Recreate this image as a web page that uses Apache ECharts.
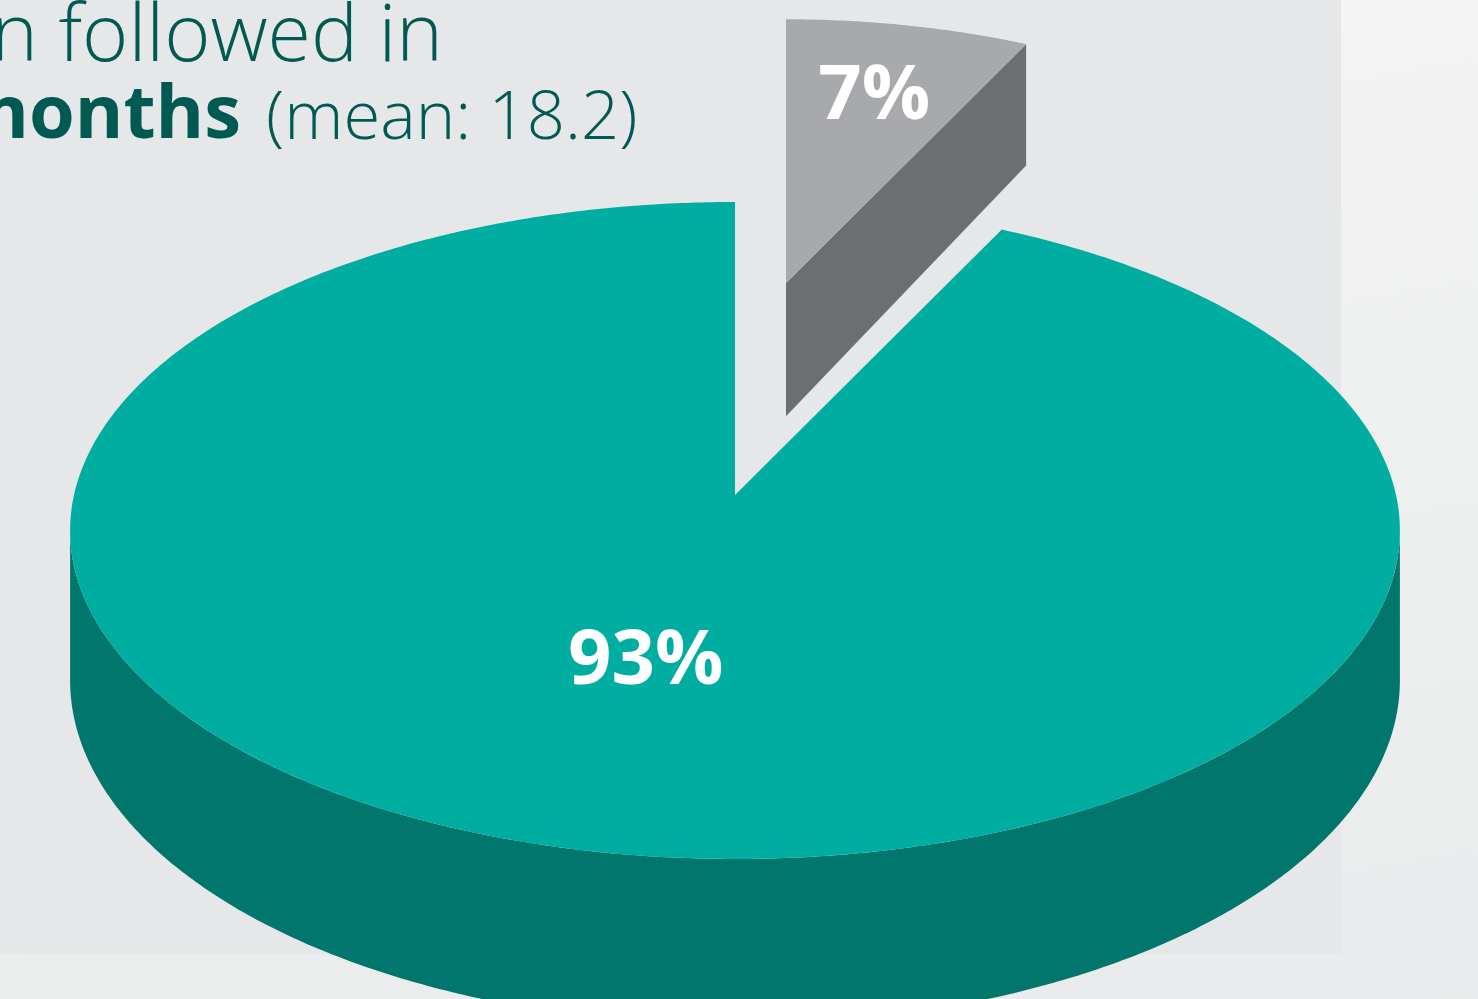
<!DOCTYPE html>
<html>
<head>
<meta charset="utf-8">
<style>
  html, body { margin: 0; padding: 0; }
  body { background: linear-gradient(170deg, #f5f5f5 0%, #eeefef 60%, #e9eaeb 100%); }
  #chart { width: 1478px; height: 999px; }
</style>
<script src="https://cdn.jsdelivr.net/npm/echarts@6/dist/echarts.min.js"></script>
</head>
<body>
<div id="chart"></div>
<script>
// slice data (share of patients, %), clockwise from 12 o'clock
var categories = ['Not followed', 'Followed'];
var shares = [7.3, 92.7];
var labels = ['7%', '93%'];

// looks of each slice
var topColors = ['#a7a9ac', '#00ada1'];
var sideColors = ['#6d6e71', '#00766d'];
var labelRadius = [0.7, 0.5];
// exploded slice: moved apex + shrink (perspective)
var explode = [{ dx: 51, dy: -212, scale: 0.9 }, null];

// projection of the pie disc (perspective-ish)
var CX = 735, APEX_Y = 495, A = 661, B = 271.2, C = -0.108, DEPTH = 148;
var TANGENT = Math.acos(C) * 180 / Math.PI; // where the side silhouette is

function proj(u, v, down) {
    var den = 1 + C * v;
    return [CX + A * u / den, (B * v + APEX_Y) / den + (down ? DEPTH / den : 0)];
}
function rim(deg, r, down) {
    var t = deg * Math.PI / 180;
    return proj(r * Math.sin(t), -r * Math.cos(t), down);
}
function steps(from, to) {
    var out = [];
    for (var d = from; d < to; d += 0.5) out.push(d);
    out.push(to);
    return out;
}

var total = shares.reduce(function (s, v) { return s + v; }, 0);
var startAngles = [];
var acc = 0;
for (var i = 0; i < shares.length; i++) {
    startAngles.push(acc / total * 360);
    acc += shares[i];
}

function renderSlice(params, api) {
    var idx = params.dataIndex;
    var a = startAngles[idx];
    var b = a + api.value(0) / total * 360;
    var ex = explode[idx];
    function tr(p) {
        if (!ex) return p;
        return [CX + ex.dx + ex.scale * (p[0] - CX), APEX_Y + ex.dy + ex.scale * (p[1] - APEX_Y)];
    }
    var center = proj(0, 0, false), centerB = proj(0, 0, true);
    var children = [];

    // outer wall, only the front part is seen
    var w0 = Math.max(a, TANGENT), w1 = Math.min(b, 360 - TANGENT);
    if (w1 > w0) {
        var wall = [], back = [];
        steps(w0, w1).forEach(function (d) {
            wall.push(tr(rim(d, 1, false)));
            back.unshift(tr(rim(d, 1, true)));
        });
        children.push({ type: 'polygon', shape: { points: wall.concat(back) }, style: { fill: sideColors[idx] } });
    }
    // radial faces facing the viewer
    var tb = b * Math.PI / 180, ta = a * Math.PI / 180;
    if (Math.sin(tb) > 0.01) {
        children.push({ type: 'polygon', shape: { points: [tr(center), tr(rim(b, 1, false)), tr(rim(b, 1, true)), tr(centerB)] }, style: { fill: sideColors[idx] } });
    }
    if (Math.sin(ta) < -0.01) {
        children.push({ type: 'polygon', shape: { points: [tr(center), tr(rim(a, 1, false)), tr(rim(a, 1, true)), tr(centerB)] }, style: { fill: sideColors[idx] } });
    }
    // top face
    var pts = [tr(center)];
    steps(a, b).forEach(function (d) { pts.push(tr(rim(d, 1, false))); });
    children.push({ type: 'polygon', shape: { points: pts }, style: { fill: topColors[idx] } });
    // label
    var lp = tr(rim((a + b) / 2, labelRadius[idx], false));
    children.push({
        type: 'text',
        style: {
            text: labels[idx], x: lp[0] - (ex ? 0 : 10), y: lp[1],
            fill: '#ffffff', font: 'bold 76px "Open Sans"',
            align: 'center', verticalAlign: 'middle',
            textAlign: 'center', textVerticalAlign: 'middle'
        }
    });
    return { type: 'group', children: children };
}

var chart = echarts.init(document.getElementById('chart'));
chart.setOption({
    backgroundColor: 'transparent',
    animation: false,
    graphic: [
        { type: 'rect', shape: { x: 0, y: 0, width: 1341, height: 954 }, style: { fill: '#e6e7e9' }, z: -10 },
        {
            type: 'text', z: 10,
            style: {
                text: 'n followed in', x: 443, y: 38,
                font: '300 79px "Open Sans"', fill: '#005a51',
                align: 'right', verticalAlign: 'middle',
                textAlign: 'right', textVerticalAlign: 'middle'
            }
        },
        {
            type: 'text', z: 10,
            style: {
                text: 'months', x: 241, y: 117,
                font: 'bold 74px "Open Sans"', fill: '#005a51',
                align: 'right', verticalAlign: 'middle',
                textAlign: 'right', textVerticalAlign: 'middle'
            }
        },
        {
            type: 'text', z: 10,
            style: {
                text: '(mean: 18.2)', x: 266, y: 120,
                font: '300 67px "Open Sans"', fill: '#005a51',
                align: 'left', verticalAlign: 'middle',
                textAlign: 'left', textVerticalAlign: 'middle'
            }
        }
    ],
    series: [{
        type: 'custom',
        coordinateSystem: 'none',
        renderItem: renderSlice,
        data: shares.map(function (v, i) { return { name: categories[i], value: [v] }; })
    }]
});
</script>
</body>
</html>
